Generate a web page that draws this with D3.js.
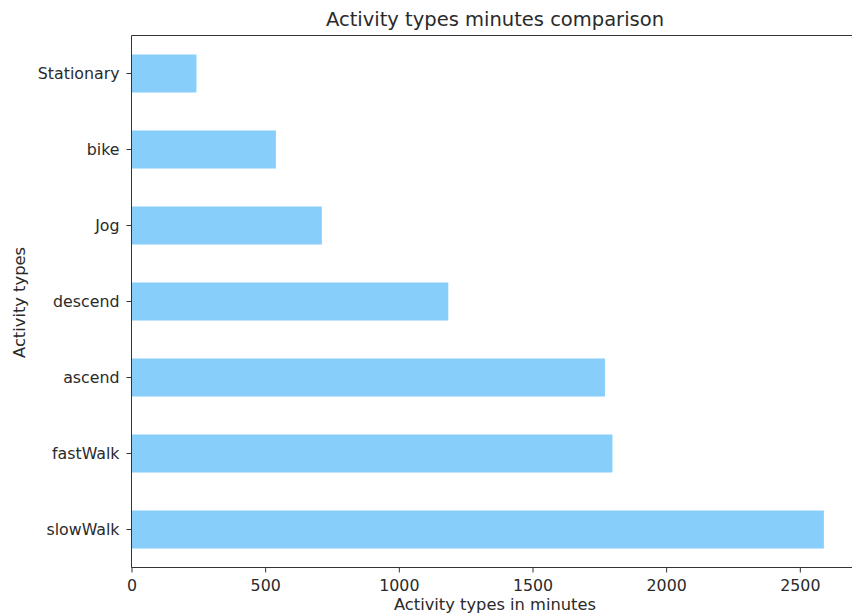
<!DOCTYPE html>
<html>
<head>
<meta charset="utf-8">
<script src="https://cdn.jsdelivr.net/npm/d3@7"></script>
<style>
  html, body { margin: 0; padding: 0; background: #fff; }
  svg { display: block; font-family: "DejaVu Sans", sans-serif; }
</style>
</head>
<body>
<svg id="chart" width="852" height="616"></svg>
<script>
const categories = ["slowWalk", "fastWalk", "ascend", "descend", "Jog", "bike", "Stationary"];
const minutes = [2590, 1799, 1771, 1185, 712, 540, 243];
const xTicks = [0, 500, 1000, 1500, 2000, 2500];
const titleText = "Activity types minutes comparison";
const xLabelText = "Activity types in minutes";
const yLabelText = "Activity types";

const svg = d3.select("#chart");
const margin = { left: 131.5, top: 35.5, right: 858.5, bottom: 567.5 };

const x = d3.scaleLinear().domain([0, 2719.5]).range([margin.left, margin.right]);
const y = d3.scaleBand()
  .domain(categories.slice().reverse())
  .range([margin.top, margin.bottom])
  .paddingInner(0.5).paddingOuter(0.25);

const data = categories.map((c, i) => ({ c, v: minutes[i] }));

svg.append("g").selectAll("rect").data(data).enter().append("rect")
  .attr("x", x(0))
  .attr("y", d => y(d.c))
  .attr("width", d => x(d.v) - x(0))
  .attr("height", y.bandwidth())
  .attr("fill", "#87CEFA");

// frame
const frame = svg.append("g").attr("fill", "none").attr("stroke", "#333").attr("stroke-width", 1);
frame.append("line").attr("x1", margin.left).attr("x2", margin.right).attr("y1", margin.top).attr("y2", margin.top);
frame.append("line").attr("x1", margin.right).attr("x2", margin.right).attr("y1", margin.top).attr("y2", margin.bottom);

const xAxis = svg.append("g")
  .attr("transform", `translate(0,${margin.bottom})`)
  .call(d3.axisBottom(x).tickValues(xTicks).tickFormat(d3.format("d")).tickSize(5).tickPadding(7));
const yAxis = svg.append("g")
  .attr("transform", `translate(${margin.left},0)`)
  .call(d3.axisLeft(y).tickSize(5).tickPadding(7));

[xAxis, yAxis].forEach(a => {
  a.select(".domain").attr("stroke", "#333");
  a.selectAll(".tick line").attr("stroke", "#333");
  a.selectAll(".tick text").attr("fill", "#2a2a2a").style("font-size", "15.8px").style("font-family", "DejaVu Sans");
});
yAxis.select(".domain").attr("d", `M-0,${margin.top}V${margin.bottom}`);
xAxis.select(".domain").attr("d", `M${margin.left},0H${margin.right}`);

svg.append("text")
  .attr("x", (margin.left + margin.right) / 2)
  .attr("y", 26)
  .attr("text-anchor", "middle")
  .attr("fill", "#2a2a2a")
  .style("font-size", "19.5px")
  .text(titleText);

svg.append("text")
  .attr("x", (margin.left + margin.right) / 2)
  .attr("y", 610)
  .attr("text-anchor", "middle")
  .attr("fill", "#2a2a2a")
  .style("font-size", "16.3px")
  .text(xLabelText);

svg.append("text")
  .attr("transform", `translate(25,${(margin.top + margin.bottom) / 2 + 1}) rotate(-90)`)
  .attr("text-anchor", "middle")
  .attr("fill", "#2a2a2a")
  .style("font-size", "16.3px")
  .text(yLabelText);
</script>
</body>
</html>
